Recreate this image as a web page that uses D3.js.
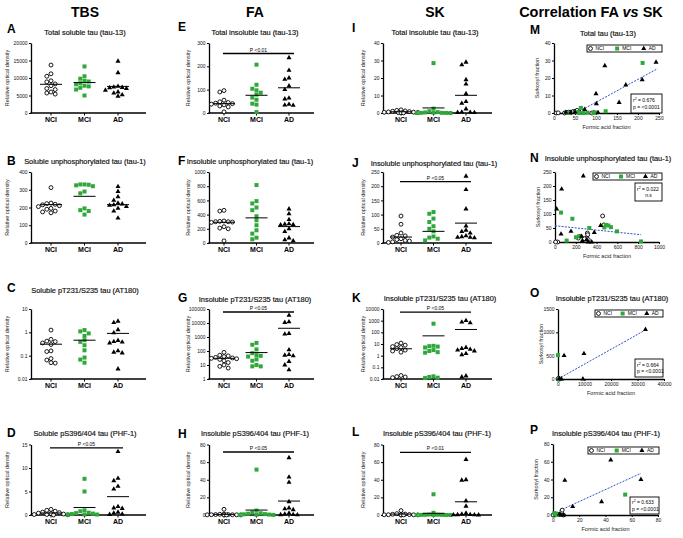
<!DOCTYPE html>
<html>
<head>
<meta charset="utf-8">
<script src="https://cdn.jsdelivr.net/npm/d3@7"></script>
<style>
  body { margin: 0; background: #fff; }
  svg { display: block; font-family: "Liberation Sans", Arial, sans-serif; }
</style>
</head>
<body>
<script>
const groups = ['NCI', 'MCI', 'AD']
const green = '#2fa83a'

// dot plots: [NCI, MCI, AD] values, line = group mean, sig = height of P bar
const valsA = [[13700, 11200, 10500, 9200, 8900, 8300, 7800, 7000, 6700, 6000, 5700, 5400],
  [13300, 10500, 9800, 9200, 9000, 8500, 8200, 7800, 7600, 7200, 6700, 5000],
  [14800, 11500, 7600, 7400, 7300, 7200, 7000, 6500, 6000, 5700, 5200, 4800]]
const meanA = [8200, 8700, 7600]

const valsB = [[312, 225, 222, 218, 215, 210, 205, 195, 190, 180, 175, 170],
  [330, 330, 328, 325, 320, 290, 280, 195, 185, 180, 160],
  [318, 290, 260, 240, 225, 220, 215, 212, 205, 195, 180, 140]]
const meanB = [216, 263, 216]

const valsC = [[1.25, 0.5, 0.42, 0.4, 0.35, 0.3, 0.16, 0.15, 0.075, 0.065, 0.05, 0.048],
  [1.25, 1.1, 0.9, 0.7, 0.46, 0.39, 0.28, 0.17, 0.083, 0.068, 0.05],
  [3.0, 2.6, 1.3, 0.95, 0.45, 0.4, 0.38, 0.35, 0.16, 0.14, 0.13, 0.027]]
const meanC = [0.31, 0.46, 0.9]

const valsD = [[1.2, 1.0, 0.8, 0.6, 0.5, 0.4, 0.3, 0.2, 0.1, 0.1, 0.05, 0],
  [7.7, 5.0, 1.0, 0.8, 0.5, 0.4, 0.3, 0.2, 0.1, 0.1, 0.05],
  [13.5, 7.8, 7.3, 6.1, 5.5, 1.8, 1.5, 1.4, 0.6, 0.4, 0.2, 0.1]]
const meanD = [0.43, 1.6, 3.9]

const valsE = [[96, 90, 55, 48, 45, 42, 40, 38, 35, 30, 26, 5],
  [207, 121, 104, 97, 87, 79, 66, 57, 40, 36, 4],
  [237, 183, 150, 144, 116, 100, 64, 60, 37, 34, 33]]
const meanE = [40, 76, 108]

const valsF = [[460, 450, 310, 305, 300, 300, 295, 290, 230, 210, 200, 30],
  [816, 590, 557, 500, 462, 377, 320, 250, 179, 132, 75, 52],
  [480, 410, 330, 270, 265, 260, 255, 200, 160, 70, 45, 30]]
const meanF = [292, 354, 231]

const valsG = [[80, 50, 45, 40, 35, 32, 30, 28, 25, 20, 15, 10, 8, 6],
  [380, 280, 130, 70, 50, 45, 40, 25, 20, 10, 8, 8],
  [35000, 12000, 11000, 1800, 1600, 120, 55, 50, 45, 18, 10, 4.5]]
const meanG = [30, 77, 4200]

const valsH = [[6.5, 1, 0.8, 0.5, 0.5, 0.3, 0.3, 0.2, 0.2, 0.1, 0.1, 0.05],
  [51.5, 5, 3, 2, 1.5, 1, 0.8, 0.5, 0.3, 0.2, 0.1],
  [65, 43, 37, 15, 8, 7, 6, 2, 1, 0.5, 0.3, 0.2]]
const meanH = [0.7, 5.6, 15.8]

const valsI = [[1.8, 1.5, 1.2, 1.0, 0.8, 0.6, 0.5, 0.4, 0.3, 0.2, 0.1, 0.05],
  [28.5, 2.5, 1.0, 0.5, 0.3, 0.2, 0.1, 0.1, 0.05, 0.02, 0],
  [29, 27.5, 19, 16.5, 11, 6.5, 5.5, 2.3, 0.5, 0.4, 0.3, 0.2]]
const meanI = [0.7, 2.9, 10.1]

const valsJ = [[95, 66, 35, 27, 25, 21, 15, 12, 9, 7, 4, 2],
  [109, 103, 86, 74, 59, 50, 41, 23, 19, 15, 9],
  [235, 188, 120, 60, 45, 40, 35, 25, 22, 20, 20, 18]]
const meanJ = [21, 41, 70]

const valsK = [[12, 9, 8, 6, 5, 4, 3, 2.5, 2, 0.02, 0.016, 0.015, 0.013],
  [550, 7, 6.5, 6, 5, 3, 2.5, 2, 1.8, 0.017, 0.015, 0.013, 0.012],
  [1000, 750, 650, 5, 4, 3.5, 3, 2.5, 1.5, 1.2, 0.018, 0.015]]
const meanK = [3.9, 50, 176]

const valsL = [[5, 1.5, 1, 0.8, 0.5, 0.4, 0.3, 0.2, 0.2, 0.1, 0.1, 0.05],
  [23.5, 2.5, 0.5, 0.3, 0.2, 0.1, 0.1, 0.05, 0.05, 0.02, 0],
  [63, 40, 39.5, 16, 10, 2, 1, 0.5, 0.3, 0.2, 0.1, 0]]
const meanL = [1, 1.9, 15]

// correlation scatter: [FA, SK] pairs per group, fit = [x0, y0, x1, y1]
const corrM = [[[5, 0], [10, 0.1], [25, 0], [30, 0.3], [35, 0.5], [40, 0.2], [45, 0.8], [50, 1], [55, 1.5], [60, 0.5], [90, 0], [95, 0.2]],
  [[211, 28.6], [64, 2.9], [123, 1], [70, 0], [80, 0.2], [95, 0], [100, 0.3], [55, 0.5], [35, 0], [60, 0]],
  [[243, 29], [121, 27], [210, 19], [171, 16], [100, 11], [101, 5.3], [155, 6], [73, 2], [28, 0.4], [40, 0.3], [50, 0.5], [105, 0.2]]]
const fitM = [53, 0, 244, 25]

const corrN = [[[458, 93], [471, 61], [311, 32], [314, 26], [304, 14], [240, 20], [224, 14], [26, 0], [6, 0], [282, 12], [320, 8]],
  [[58, 105], [167, 83], [330, 50], [490, 61], [513, 59], [538, 53], [474, 52], [596, 38], [827, 2], [112, 5], [202, 17], [231, 20]],
  [[272, 236], [64, 189], [16, 118], [58, 28], [154, 38], [439, 59], [378, 34], [256, 20], [304, 8], [353, 0], [263, 5], [320, 0]]]
const fitN = [0, 58, 827, 26]

const corrO = [[[0, 0], [300, 5], [600, 0], [150, 10]],
  [[0, 510], [300, 0], [700, 5]],
  [[33000, 1060], [9800, 545], [2300, 500], [9400, 0], [1300, 0], [500, 5]]]
const fitO = [0, 0, 33000, 1050]

const corrP = [[[7, 5.5], [1, 0], [5, 0.5], [0, 0], [3, 1], [8, 0], [2, 0.3]],
  [[55, 23], [2, 1.5], [4, 0.5], [5, 0], [1, 2], [3, 0]],
  [[44, 62], [9, 39], [67, 40], [37, 15], [15, 9.5], [8, 0], [6, 0], [5, 1]]]
const fitP = [5, 5, 67, 47]

const headers = ['TBS', 'FA', 'SK']

// layout
const W = 683, H = 538
const cols = [
  {ax: 31, xEnd: 146, c0: 51, c2: 118, mid: 85, letter: 7, ytitle: 7},
  {ax: 209, xEnd: 314, c0: 224, c2: 289, mid: 255, letter: 178, ytitle: 188},
  {ax: 383, xEnd: 492, c0: 401, c2: 466, mid: 435, letter: 352, ytitle: 363},
  {mid: 608, letter: 530}
]
const rows = [
  {top: 43, bottom: 113},
  {top: 172, bottom: 243},
  {top: 309, bottom: 379},
  {top: 444.5, bottom: 515}
]

const dotPanels = [
  {id: 'A', col: 0, row: 0, vals: valsA, mean: meanA, domain: [0, 20000], ticks: [0, 5000, 10000, 15000, 20000], title: 'Total soluble tau (tau-13)', ty: 32, ly: 29},
  {id: 'B', col: 0, row: 1, vals: valsB, mean: meanB, domain: [0, 400], ticks: [0, 100, 200, 300, 400], title: 'Soluble unphosphorylated tau (tau-1)', ty: 161, ly: 161},
  {id: 'C', col: 0, row: 2, vals: valsC, mean: meanC, log: true, domain: [0.01, 10], ticks: [0.01, 0.1, 1, 10], title: 'Soluble pT231/S235 tau (AT180)', ty: 290, ly: 288},
  {id: 'D', col: 0, row: 3, vals: valsD, mean: meanD, domain: [0, 15], ticks: [0, 5, 10, 15], title: 'Soluble pS396/404 tau (PHF-1)', ty: 433, ly: 433, sig: 14.3, p: 'P <0.05'},
  {id: 'E', col: 1, row: 0, vals: valsE, mean: meanE, domain: [0, 300], ticks: [0, 100, 200, 300], title: 'Total insoluble tau (tau-13)', ty: 32, ly: 27, sig: 255, p: 'P <0.01'},
  {id: 'F', col: 1, row: 1, vals: valsF, mean: meanF, domain: [0, 1000], ticks: [0, 200, 400, 600, 800, 1000], title: 'Insoluble unphosphorylated tau (tau-1)', ty: 161, ly: 161, tx: 250},
  {id: 'G', col: 1, row: 2, vals: valsG, mean: meanG, log: true, domain: [1, 100000], ticks: [1, 10, 100, 1000, 10000, 100000], title: 'Insoluble pT231/S235 tau (AT180)', ty: 299, ly: 298, sig: 61000, p: 'P <0.05'},
  {id: 'H', col: 1, row: 3, vals: valsH, mean: meanH, domain: [0, 80], ticks: [0, 20, 40, 60, 80], title: 'Insoluble pS396/404 tau (PHF-1)', ty: 433, ly: 434, sig: 71.5, p: 'P <0.05'},
  {id: 'I', col: 2, row: 0, vals: valsI, mean: meanI, domain: [0, 40], ticks: [0, 10, 20, 30, 40], title: 'Total insoluble tau (tau-13)', ty: 32, ly: 28},
  {id: 'J', col: 2, row: 1, vals: valsJ, mean: meanJ, domain: [0, 250], ticks: [0, 50, 100, 150, 200, 250], title: 'Insoluble unphosphorylated tau (tau-1)', ty: 163, ly: 163, tx: 434, sig: 216, p: 'P <0.05'},
  {id: 'K', col: 2, row: 2, vals: valsK, mean: meanK, log: true, domain: [0.01, 10000], ticks: [0.01, 0.1, 1, 10, 100, 1000, 10000], title: 'Insoluble pT231/S235 tau (AT180)', ty: 298, ly: 298, tx: 440, sig: 5500, p: 'P <0.05'},
  {id: 'L', col: 2, row: 3, vals: valsL, mean: meanL, domain: [0, 80], ticks: [0, 20, 40, 60, 80], title: 'Insoluble pS396/404 tau (PHF-1)', ty: 433, ly: 432, tx: 437, sig: 71, p: 'P <0.01'}
]

const corrPanels = [
  {id: 'M', pts: corrM, fit: fitM, ax: 554, xEnd: 659, top: 43, bottom: 113, xmax: 250, xticks: [0, 50, 100, 150, 200, 250], ymax: 40, yticks: [0, 10, 20, 30, 40],
    title: 'Total tau (tau-13)', ty: 33, ly: 30, tx: 608, leg: [587, 45, 75], box: [631, 94, 31, 19], r2: '0.676', pv: 'p = <0.0001'},
  {id: 'N', pts: corrN, fit: fitN, ax: 555, xEnd: 659, top: 172, bottom: 242, xmax: 1000, xticks: [0, 200, 400, 600, 800, 1000], ymax: 250, yticks: [0, 50, 100, 150, 200, 250],
    title: 'Insoluble unphosphorylated tau (tau-1)', ty: 158, ly: 158, tx: 608, leg: [593, 173, 69], box: [635, 183, 27, 18], r2: '0.022', pv: 'n.s'},
  {id: 'O', pts: corrO, fit: fitO, ax: 558, xEnd: 664, top: 309, bottom: 379, xmax: 40000, xticks: [0, 10000, 20000, 30000, 40000], ymax: 1500, yticks: [0, 500, 1000, 1500],
    title: 'Insoluble pT231/S235 tau (AT180)', ty: 298, ly: 293, tx: 612, leg: [595, 310, 68], box: [635, 359, 28, 18], r2: '0.664', pv: 'p = <0.0001'},
  {id: 'P', pts: corrP, fit: fitP, ax: 553, xEnd: 658, top: 444, bottom: 515, xmax: 80, xticks: [0, 20, 40, 60, 80], ymax: 80, yticks: [0, 20, 40, 60, 80],
    title: 'Insoluble pS396/404 tau (PHF-1)', ty: 433, ly: 430, tx: 606, leg: [588, 447, 71], box: [630, 497, 29, 17], r2: '0.633', pv: 'p = <0.0001'}
]

const sym = [
  {type: d3.symbolCircle, size: 12, fill: '#fff', stroke: '#000'},
  {type: d3.symbolSquare, size: 16, fill: green, stroke: 'none'},
  {type: d3.symbolTriangle, size: 11, fill: '#000', stroke: 'none'}
]

let svg = d3.select('body').append('svg')
  .attr('width', W)
  .attr('height', H)
svg.append('rect').attr('width', W).attr('height', H).attr('fill', '#fff')

function drawSymbol(g, gi, x, y) {
  let s = sym[gi]
  g.append('path')
    .attr('d', d3.symbol().type(s.type).size(s.size)())
    .attr('transform', 'translate(' + x + ',' + y + ')')
    .attr('fill', s.fill)
    .attr('stroke', s.stroke)
    .attr('stroke-width', 0.9)
}

// side-by-side placement of points that would overlap
function swarm(vals, y, cx) {
  let d = 4.2
  let placed = []
  vals.slice().sort((a, b) => b - a).forEach(v => {
    let py = y(v)
    let off = null
    for (let k = 0; k < 9; k++) {
      let cand = k === 0 ? 0 : (k % 2 ? -1 : 1) * Math.ceil(k / 2) * d
      if (!placed.some(p => Math.abs(p.x - cand) < d * 0.95 && Math.abs(p.y - py) < d * 0.95)) {
        off = cand
        break
      }
    }
    if (off === null) off = ((placed.length % 7) - 3) * d * 0.6
    placed.push({x: off, y: py})
  })
  return placed.map(p => ({x: cx + p.x, y: p.y}))
}

function styleAxis(a) {
  a.select('.domain').attr('stroke-width', 1.3)
  a.selectAll('.tick line').attr('stroke-width', 1)
  a.selectAll('.tick text').attr('font-size', 5).attr('font-family', null).attr('fill', '#111')
}

// column headers
headers.forEach((h, i) => {
  svg.append('text')
    .attr('x', cols[i].mid)
    .attr('y', 17)
    .attr('text-anchor', 'middle')
    .attr('font-size', 14)
    .attr('font-weight', 'bold')
    .text(h)
})
let corrHead = svg.append('text')
  .attr('x', cols[3].mid - 17)
  .attr('y', 17)
  .attr('text-anchor', 'middle')
  .attr('font-size', 14.5)
  .attr('font-weight', 'bold')
corrHead.append('tspan').text('Correlation FA ')
corrHead.append('tspan').attr('font-style', 'italic').text('vs')
corrHead.append('tspan').text(' SK')

function panelText(id, letterX, ly, tx, ty, title) {
  svg.append('text')
    .attr('x', letterX)
    .attr('y', ly + 4.3)
    .attr('font-size', 12)
    .attr('font-weight', 'bold')
    .text(id)
  svg.append('text')
    .attr('x', tx)
    .attr('y', ty + 2.5)
    .attr('text-anchor', 'middle')
    .attr('font-size', 7.4)
    .attr('fill', '#111')
    .attr('stroke', '#111')
    .attr('stroke-width', 0.18)
    .text(title)
}

dotPanels.forEach(p => {
  let col = cols[p.col], row = rows[p.row]
  let y = (p.log ? d3.scaleLog() : d3.scaleLinear())
    .domain(p.domain)
    .range([row.bottom, row.top])
  let x = d3.scalePoint()
    .domain(groups)
    .range([col.c0, col.c2])
  let g = svg.append('g')

  panelText(p.id, col.letter, p.ly, p.tx || col.mid, p.ty, p.title)

  g.append('g')
    .attr('transform', 'translate(' + col.ax + ',0)')
    .call(d3.axisLeft(y).tickValues(p.ticks).tickSize(2).tickSizeOuter(0).tickPadding(1.5)
      .tickFormat(d => String(d)))
    .call(styleAxis)

  g.append('text')
    .attr('transform', 'translate(' + (col.ytitle + 2) + ',' + ((row.top + row.bottom) / 2) + ') rotate(-90)')
    .attr('text-anchor', 'middle')
    .attr('font-size', 5.5)
    .attr('fill', '#222')
    .text('Relative optical density')

  g.append('line')
    .attr('x1', col.ax - 0.6)
    .attr('x2', col.xEnd)
    .attr('y1', row.bottom)
    .attr('y2', row.bottom)
    .attr('stroke', '#000')
    .attr('stroke-width', 1.6)

  groups.forEach((grp, gi) => {
    let cx = x(grp)
    g.append('line')
      .attr('x1', cx).attr('x2', cx)
      .attr('y1', row.bottom).attr('y2', row.bottom + 2.5)
      .attr('stroke', '#000')
    g.append('text')
      .attr('x', cx)
      .attr('y', row.bottom + 9)
      .attr('text-anchor', 'middle')
      .attr('font-size', 7)
      .attr('font-weight', 'bold')
      .text(grp)

    let vals = p.vals[gi].map(v => p.log ? Math.max(v, p.domain[0]) : v)
    swarm(vals, y, cx).forEach(pt => drawSymbol(g, gi, pt.x, pt.y))

    g.append('line')
      .attr('x1', cx - 11).attr('x2', cx + 11)
      .attr('y1', y(p.mean[gi])).attr('y2', y(p.mean[gi]))
      .attr('stroke', '#000')
      .attr('stroke-width', 1)
  })

  if (p.sig) {
    let sy = y(p.sig)
    g.append('line')
      .attr('x1', x('NCI') - 1).attr('x2', x('AD') + 5)
      .attr('y1', sy).attr('y2', sy)
      .attr('stroke', '#000')
      .attr('stroke-width', 1.3)
    g.append('text')
      .attr('x', (x('NCI') + x('AD')) / 2 + 2)
      .attr('y', sy - 2)
      .attr('text-anchor', 'middle')
      .attr('font-size', 5)
      .text(p.p)
  }
})

corrPanels.forEach(p => {
  let x = d3.scaleLinear().domain([0, p.xmax]).range([p.ax, p.xEnd])
  let y = d3.scaleLinear().domain([0, p.ymax]).range([p.bottom, p.top])
  let g = svg.append('g')

  panelText(p.id, cols[3].letter, p.ly, p.tx, p.ty, p.title)

  g.append('g')
    .attr('transform', 'translate(0,' + p.bottom + ')')
    .call(d3.axisBottom(x).tickValues(p.xticks).tickSize(2).tickSizeOuter(0).tickPadding(1.5)
      .tickFormat(d => String(d)))
    .call(styleAxis)
  g.append('g')
    .attr('transform', 'translate(' + p.ax + ',0)')
    .call(d3.axisLeft(y).tickValues(p.yticks).tickSize(2).tickSizeOuter(0).tickPadding(1.5)
      .tickFormat(d => String(d)))
    .call(styleAxis)

  g.append('text')
    .attr('x', (p.ax + p.xEnd) / 2)
    .attr('y', p.bottom + 16)
    .attr('text-anchor', 'middle')
    .attr('font-size', 5.5)
    .attr('fill', '#222')
    .text('Formic acid fraction')
  g.append('text')
    .attr('transform', 'translate(' + (p.ax - 15) + ',' + ((p.top + p.bottom) / 2) + ') rotate(-90)')
    .attr('text-anchor', 'middle')
    .attr('font-size', 5.5)
    .attr('fill', '#222')
    .text('Sarkosyl fraction')

  g.append('line')
    .attr('x1', x(p.fit[0])).attr('y1', y(p.fit[1]))
    .attr('x2', x(p.fit[2])).attr('y2', y(p.fit[3]))
    .attr('stroke', '#3050d0')
    .attr('stroke-width', 1)
    .attr('stroke-dasharray', '2,1.3')

  p.pts.forEach((grpPts, gi) => {
    grpPts.forEach(d => drawSymbol(g, gi, x(d[0]), y(d[1])))
  })

  // legend
  let lx = p.leg[0], ly = p.leg[1], lw = p.leg[2]
  g.append('rect')
    .attr('x', lx).attr('y', ly).attr('width', lw).attr('height', 7)
    .attr('fill', '#fff').attr('stroke', '#000').attr('stroke-width', 0.9)
  groups.forEach((grp, gi) => {
    let ix = lx + 3.5 + gi * lw * 0.355
    drawSymbol(g, gi, ix, ly + 3.5)
    g.append('text')
      .attr('x', ix + 5)
      .attr('y', ly + 5.3)
      .attr('font-size', 5)
      .text(grp)
  })

  // r squared box
  let b = p.box
  g.append('rect')
    .attr('x', b[0]).attr('y', b[1]).attr('width', b[2]).attr('height', b[3])
    .attr('fill', '#fff').attr('stroke', '#000').attr('stroke-width', 0.9)
  let t1 = g.append('text')
    .attr('x', b[0] + 2)
    .attr('y', b[1] + b[3] / 2 - 1.5)
    .attr('font-size', 5)
  t1.append('tspan').text('r')
  t1.append('tspan').attr('dy', -2).attr('font-size', 3.5).text('2')
  t1.append('tspan').attr('dy', 2).text(' = ' + p.r2)
  g.append('text')
    .attr('x', p.pv === 'n.s' ? b[0] + b[2] / 2 : b[0] + 2)
    .attr('y', b[1] + b[3] / 2 + 5)
    .attr('text-anchor', p.pv === 'n.s' ? 'middle' : 'start')
    .attr('font-size', 5)
    .text(p.pv)
})
</script>
</body>
</html>
